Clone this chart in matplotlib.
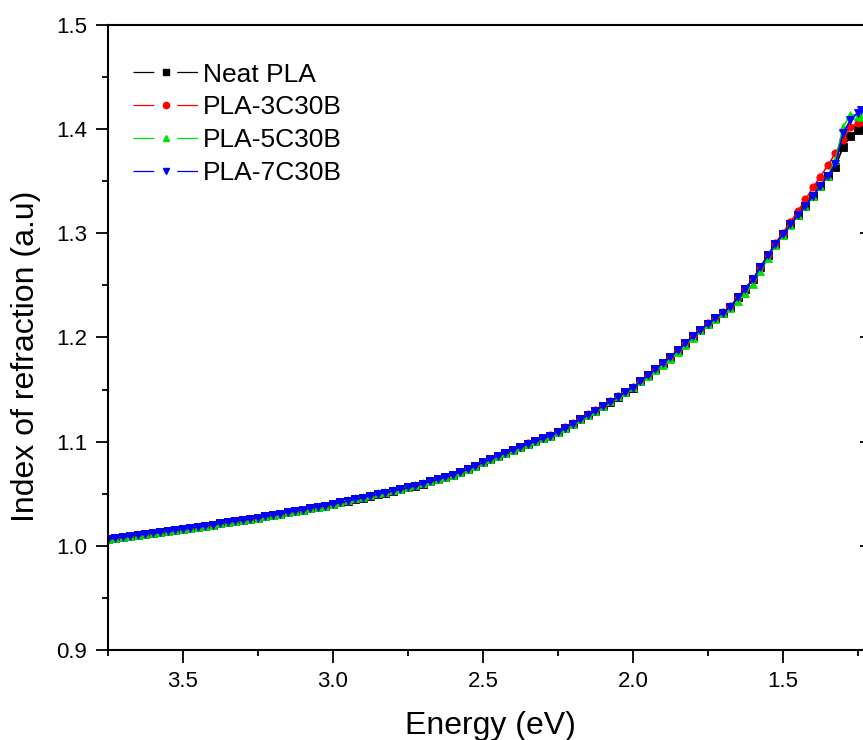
import matplotlib
matplotlib.use("Agg")
import matplotlib.pyplot as plt
from matplotlib.lines import Line2D
from matplotlib.ticker import MultipleLocator, FormatStrFormatter
from matplotlib.legend_handler import HandlerTuple

plt.rcParams['font.family'] = ['Liberation Sans', 'DejaVu Sans']
plt.rcParams['lines.scale_dashes'] = False

energy = [
    3.750, 3.725, 3.700, 3.675, 3.650, 3.625, 3.600, 3.575, 3.550, 3.525,
    3.500, 3.475, 3.450, 3.425, 3.400, 3.375, 3.350, 3.325, 3.300, 3.275,
    3.250, 3.225, 3.200, 3.175, 3.150, 3.125, 3.100, 3.075, 3.050, 3.025,
    3.000, 2.975, 2.950, 2.925, 2.900, 2.875, 2.850, 2.825, 2.800, 2.775,
    2.750, 2.725, 2.700, 2.675, 2.650, 2.625, 2.600, 2.575, 2.550, 2.525,
    2.500, 2.475, 2.450, 2.425, 2.400, 2.375, 2.350, 2.325, 2.300, 2.275,
    2.250, 2.225, 2.200, 2.175, 2.150, 2.125, 2.100, 2.075, 2.050, 2.025,
    2.000, 1.975, 1.950, 1.925, 1.900, 1.875, 1.850, 1.825, 1.800, 1.775,
    1.750, 1.725, 1.700, 1.675, 1.650, 1.625, 1.600, 1.575, 1.550, 1.525,
    1.500, 1.475, 1.450, 1.425, 1.400, 1.375, 1.350, 1.325, 1.300, 1.275,
    1.250, 1.240]

neat_pla = [
    1.0066, 1.0075, 1.0084, 1.0094, 1.0103, 1.0113, 1.0122, 1.0132, 1.0141, 1.0151,
    1.0160, 1.0171, 1.0182, 1.0193, 1.0204, 1.0215, 1.0226, 1.0237, 1.0248, 1.0259,
    1.0270, 1.0283, 1.0296, 1.0309, 1.0322, 1.0335, 1.0348, 1.0361, 1.0374, 1.0387,
    1.0400, 1.0416, 1.0432, 1.0448, 1.0464, 1.0480, 1.0496, 1.0512, 1.0528, 1.0544,
    1.0560, 1.0579, 1.0598, 1.0618, 1.0639, 1.0661, 1.0684, 1.0709, 1.0736, 1.0766,
    1.0800, 1.0832, 1.0863, 1.0893, 1.0922, 1.0950, 1.0977, 1.1004, 1.1031, 1.1058,
    1.1090, 1.1131, 1.1172, 1.1213, 1.1255, 1.1298, 1.1341, 1.1385, 1.1430, 1.1475,
    1.1520, 1.1578, 1.1637, 1.1696, 1.1755, 1.1815, 1.1880, 1.1945, 1.2010, 1.2075,
    1.2130, 1.2185, 1.2240, 1.2295, 1.2385, 1.2470, 1.2560, 1.2675, 1.2790, 1.2900,
    1.2990, 1.3085, 1.3175, 1.3265, 1.3360, 1.3455, 1.3555, 1.3640, 1.3830, 1.3930,
    1.3990, 1.4010]

pla_3c30b = [
    1.0066, 1.0075, 1.0084, 1.0094, 1.0103, 1.0113, 1.0122, 1.0132, 1.0141, 1.0151,
    1.0160, 1.0171, 1.0182, 1.0193, 1.0204, 1.0215, 1.0226, 1.0237, 1.0248, 1.0259,
    1.0270, 1.0283, 1.0296, 1.0309, 1.0322, 1.0335, 1.0348, 1.0361, 1.0374, 1.0387,
    1.0400, 1.0416, 1.0432, 1.0448, 1.0464, 1.0480, 1.0496, 1.0512, 1.0528, 1.0544,
    1.0560, 1.0579, 1.0598, 1.0618, 1.0639, 1.0661, 1.0684, 1.0709, 1.0736, 1.0766,
    1.0800, 1.0832, 1.0863, 1.0893, 1.0922, 1.0952, 1.0983, 1.1010, 1.1037, 1.1064,
    1.1096, 1.1137, 1.1178, 1.1219, 1.1261, 1.1304, 1.1347, 1.1390, 1.1435, 1.1480,
    1.1524, 1.1580, 1.1638, 1.1696, 1.1755, 1.1815, 1.1880, 1.1945, 1.2010, 1.2075,
    1.2135, 1.2190, 1.2245, 1.2300, 1.2385, 1.2470, 1.2560, 1.2675, 1.2790, 1.2905,
    1.3005, 1.3110, 1.3215, 1.3325, 1.3440, 1.3545, 1.3655, 1.3770, 1.3900, 1.4020,
    1.4060, 1.4070]

pla_5c30b = [
    1.0066, 1.0075, 1.0084, 1.0094, 1.0103, 1.0113, 1.0122, 1.0132, 1.0141, 1.0151,
    1.0160, 1.0171, 1.0182, 1.0193, 1.0204, 1.0215, 1.0226, 1.0237, 1.0248, 1.0259,
    1.0270, 1.0283, 1.0296, 1.0309, 1.0322, 1.0335, 1.0348, 1.0361, 1.0374, 1.0387,
    1.0400, 1.0424, 1.0440, 1.0456, 1.0472, 1.0488, 1.0504, 1.0520, 1.0535, 1.0550,
    1.0566, 1.0584, 1.0602, 1.0621, 1.0641, 1.0662, 1.0684, 1.0709, 1.0736, 1.0766,
    1.0800, 1.0832, 1.0863, 1.0893, 1.0922, 1.0950, 1.0977, 1.1004, 1.1031, 1.1058,
    1.1090, 1.1131, 1.1172, 1.1213, 1.1255, 1.1298, 1.1345, 1.1390, 1.1435, 1.1480,
    1.1524, 1.1580, 1.1635, 1.1690, 1.1740, 1.1795, 1.1860, 1.1930, 1.2000, 1.2068,
    1.2125, 1.2180, 1.2232, 1.2285, 1.2350, 1.2430, 1.2515, 1.2635, 1.2760, 1.2885,
    1.2985, 1.3080, 1.3172, 1.3262, 1.3355, 1.3452, 1.3555, 1.3700, 1.4020, 1.4140,
    1.4130, 1.4120]

pla_7c30b = [
    1.0066, 1.0075, 1.0084, 1.0094, 1.0103, 1.0113, 1.0122, 1.0132, 1.0141, 1.0151,
    1.0160, 1.0171, 1.0182, 1.0193, 1.0204, 1.0215, 1.0226, 1.0237, 1.0248, 1.0259,
    1.0270, 1.0283, 1.0296, 1.0309, 1.0322, 1.0335, 1.0348, 1.0361, 1.0374, 1.0387,
    1.0400, 1.0416, 1.0432, 1.0448, 1.0464, 1.0480, 1.0496, 1.0512, 1.0528, 1.0544,
    1.0560, 1.0579, 1.0598, 1.0618, 1.0639, 1.0661, 1.0684, 1.0709, 1.0736, 1.0766,
    1.0800, 1.0832, 1.0863, 1.0893, 1.0922, 1.0950, 1.0977, 1.1004, 1.1031, 1.1058,
    1.1090, 1.1131, 1.1172, 1.1213, 1.1255, 1.1298, 1.1341, 1.1385, 1.1430, 1.1475,
    1.1520, 1.1578, 1.1637, 1.1696, 1.1755, 1.1815, 1.1880, 1.1945, 1.2010, 1.2075,
    1.2130, 1.2185, 1.2240, 1.2295, 1.2385, 1.2470, 1.2560, 1.2675, 1.2790, 1.2900,
    1.2990, 1.3085, 1.3175, 1.3265, 1.3360, 1.3455, 1.3555, 1.3670, 1.3960, 1.4090,
    1.4160, 1.4180]

series_names = ["Neat PLA", "PLA-3C30B", "PLA-5C30B", "PLA-7C30B"]
series_values = [neat_pla, pla_3c30b, pla_5c30b, pla_7c30b]
colors = ["#000000", "#FF0000", "#00E000", "#0000FF"]
markers = ["s", "o", "^", "v"]

W, H = 863, 740
fig = plt.figure(figsize=(W / 100, H / 100), dpi=100)
left, right, top, bottom = 108, 872, 25, 650
ax = fig.add_axes([left / W, 1 - bottom / H, (right - left) / W, (bottom - top) / H])

handles = []
for name, vals, c, m in zip(series_names, series_values, colors, markers):
    ax.plot(energy, vals, color=c, lw=1.2, marker=m, ms=5.2, mec=c, mew=0.6)
    hl = Line2D([], [], color=c, lw=0.9, dashes=(15, 16.5))
    hm = Line2D([], [], color=c, lw=0, marker=m, ms=4.5, mec=c)
    handles.append((hl, hm))

ax.set_xlim(3.75, 1.2033)
ax.set_ylim(0.9, 1.5)
ax.xaxis.set_major_locator(MultipleLocator(0.5))
ax.xaxis.set_minor_locator(MultipleLocator(0.25))
ax.yaxis.set_major_locator(MultipleLocator(0.1))
ax.yaxis.set_minor_locator(MultipleLocator(0.05))
ax.xaxis.set_major_formatter(FormatStrFormatter('%.1f'))
ax.yaxis.set_major_formatter(FormatStrFormatter('%.1f'))

for s in ax.spines.values():
    s.set_linewidth(1.5)

ax.tick_params(axis='both', which='major', direction='out', length=9, width=1.3,
               labelsize=16, pad=6, top=False, right=False)
ax.tick_params(axis='both', which='minor', direction='out', length=4.5, width=1.3,
               top=False, right=False)
ax.tick_params(axis='y', which='major', right=True, labelright=False)
for t in ax.yaxis.get_major_ticks():
    t.tick2line.set_marker(matplotlib.lines.TICKLEFT)

ax.set_xlabel("Energy (eV)", fontsize=23, labelpad=14)
ax.set_ylabel("Index of refraction (a.u)", fontsize=23)
ax.yaxis.set_label_coords(-0.088, 0.47)

ax.legend(handles, series_names, loc='upper left', bbox_to_anchor=(0.012, 0.965),
          frameon=False, fontsize=19, handlelength=2.5, handletextpad=0.15,
          labelspacing=0.33, borderaxespad=0.2,
          handler_map={tuple: HandlerTuple(ndivide=1, pad=0)})

fig.savefig("out.png", dpi=100)
